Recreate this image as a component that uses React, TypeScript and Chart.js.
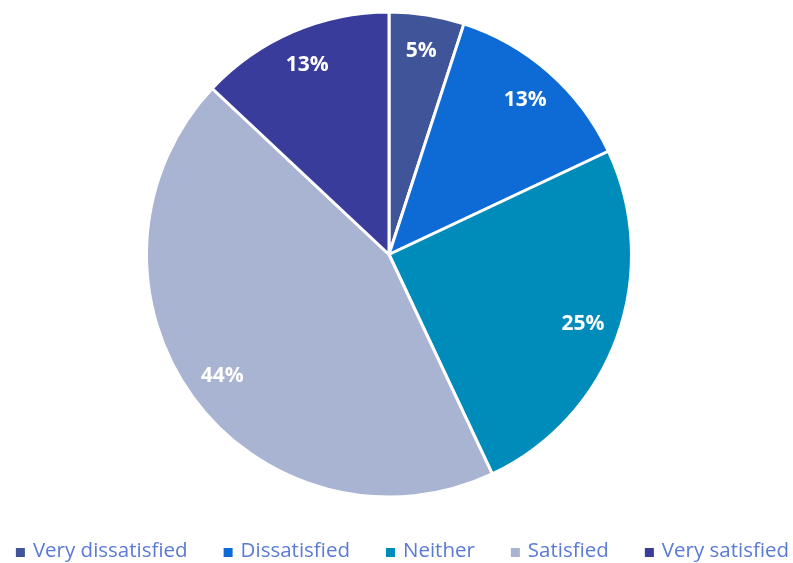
import React, { useEffect, useRef } from "react";
import { Chart, registerables } from "chart.js";

Chart.register(...registerables);

const categories = ["Very dissatisfied", "Dissatisfied", "Neither", "Satisfied", "Very satisfied"];
const values = [5, 13, 25, 44, 13];
const colors = ["#3F5499", "#0E6BD6", "#008CBA", "#A9B3D2", "#3A3C9B"];

const labelPlugin = {
  id: "sliceLabels",
  afterDatasetsDraw(chart: any) {
    const { ctx } = chart;
    const meta = chart.getDatasetMeta(0);
    const total = values.reduce((a, b) => a + b, 0);
    ctx.save();
    ctx.fillStyle = "#ffffff";
    ctx.font = "bold 21px 'Open Sans', sans-serif";
    ctx.textAlign = "center";
    ctx.textBaseline = "middle";
    meta.data.forEach((arc: any, i: number) => {
      const mid = (arc.startAngle + arc.endAngle) / 2;
      const r = arc.outerRadius * 0.85;
      const x = arc.x + Math.cos(mid) * r;
      const y = arc.y + Math.sin(mid) * r;
      ctx.fillText(Math.round((values[i] / total) * 100) + "%", x, y);
    });
    ctx.restore();
  },
};

const legendPlugin = {
  id: "customLegend",
  afterDraw(chart: any) {
    const { ctx } = chart;
    const box = 9;
    const boxGap = 8;
    const itemGap = 36;
    ctx.save();
    ctx.font = "20.5px 'Open Sans', sans-serif";
    ctx.textBaseline = "middle";
    ctx.textAlign = "left";
    const widths = categories.map((c) => box + boxGap + ctx.measureText(c).width);
    const total = widths.reduce((a, b) => a + b, 0) + itemGap * (categories.length - 1);
    let x = 402.5 - total / 2;
    const y = 551;
    categories.forEach((c, i) => {
      ctx.fillStyle = colors[i];
      ctx.fillRect(x, y - box / 2 + 1.5, box, box);
      ctx.fillStyle = "#5A7AD4";
      ctx.fillText(c, x + box + boxGap, y);
      x += widths[i] + itemGap;
    });
    ctx.restore();
  },
};

export default function App() {
  const ref = useRef<HTMLCanvasElement>(null);
  useEffect(() => {
    if (!ref.current) return;
    const chart = new Chart(ref.current, {
      type: "pie",
      data: {
        labels: categories,
        datasets: [
          {
            data: values,
            backgroundColor: colors,
            borderColor: "#ffffff",
            borderWidth: 3,
          },
        ],
      },
      options: {
        animation: false,
        responsive: false,
        layout: { padding: { top: 10.5, right: 15, left: 0, bottom: 64.5 } },
        plugins: {
          tooltip: { enabled: false },
          legend: { display: false },
        },
      },
      plugins: [labelPlugin, legendPlugin],
    });
    return () => chart.destroy();
  }, []);
  return (
    <div style={{ position: "fixed", left: 0, top: 0, width: 793, height: 563, background: "#fff" }}>
      <canvas ref={ref} width={793} height={563} />
    </div>
  );
}
